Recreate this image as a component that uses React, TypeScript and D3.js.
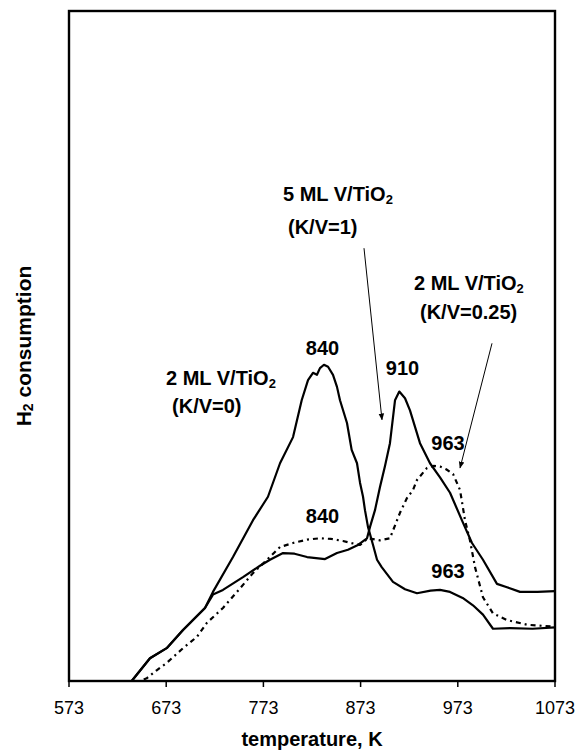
import React from "react";
import * as d3 from "d3";

// ---- Data (temperature in K, H2 consumption in arbitrary units 0..100) ----
const xTicks = [573, 673, 773, 873, 973, 1073];

// 2 ML V/TiO2 (K/V=0), solid, peak 840
const tempA = [573, 637.5, 656.3, 673.5, 690.3, 712.9, 721.1, 741.7, 762.3, 777.7, 790.1, 803.5, 812.4, 818.9, 824.0, 828.1, 831.2, 835.3, 839.5, 844.6, 848.7, 851.8, 859.0, 863.8, 869.3, 872.4, 875.5, 877.5, 880.6, 885.8, 889.9, 894.7, 906.3, 918.7, 931.0, 945.0, 954.7, 965.0, 978.0, 988.6, 998.9, 1009.2, 1026.7, 1050.0, 1073];
const valA = [0, 0, 3.4, 4.9, 7.6, 10.9, 13.3, 18.5, 24.0, 27.5, 32.5, 36.4, 41.9, 44.9, 46.0, 45.7, 46.7, 47.2, 46.9, 45.7, 43.9, 41.9, 38.5, 34.5, 32.5, 29.6, 27.5, 25.5, 23.0, 20.3, 18.1, 17.0, 14.8, 13.7, 13.1, 13.5, 13.6, 13.3, 12.4, 11.3, 9.9, 7.8, 7.9, 7.8, 8.0];

// 5 ML V/TiO2 (K/V=1), solid, peak 910
const tempB = [573, 637.5, 656.3, 673.5, 690.3, 712.9, 721.1, 731.4, 752.0, 769.5, 779.8, 793.2, 805.0, 817.9, 836.4, 848.7, 860.0, 870.3, 879.6, 882.7, 887.8, 893.0, 898.1, 903.2, 908.4, 912.8, 918.7, 923.8, 934.1, 944.4, 954.7, 965.0, 978.4, 987.6, 998.9, 1013.3, 1023.6, 1037.0, 1055.0, 1073];
const valB = [0, 0, 3.4, 4.9, 7.6, 10.9, 12.9, 13.6, 15.5, 17.2, 18.1, 19.1, 19.0, 18.5, 18.2, 19.1, 19.6, 20.3, 21.3, 23.0, 25.5, 29.0, 32.1, 35.5, 41.9, 43.2, 42.2, 40.4, 35.5, 32.5, 30.4, 28.1, 23.6, 20.6, 18.1, 14.5, 14.0, 13.3, 13.3, 13.4];

// 2 ML V/TiO2 (K/V=0.25), dotted, peak 963
const tempC = [573, 646.0, 652.9, 663.2, 673.5, 690.3, 704.7, 715.0, 731.4, 745.8, 762.3, 776.7, 790.1, 803.5, 818.0, 831.2, 843.0, 854.9, 866.0, 872.4, 880.6, 893.0, 903.2, 913.5, 920.7, 926.9, 931.0, 941.3, 948.0, 954.7, 961.0, 968.1, 975.3, 980.4, 985.5, 990.7, 998.9, 1009.2, 1023.6, 1044.2, 1073];
const valC = [0, 0, 0.4, 1.6, 2.7, 4.9, 6.6, 8.7, 10.9, 13.3, 16.1, 18.1, 20.0, 20.6, 21.1, 21.3, 21.2, 20.9, 20.5, 20.3, 21.3, 21.0, 21.3, 25.1, 27.3, 28.5, 30.0, 31.8, 32.1, 32.0, 31.6, 30.9, 28.5, 24.0, 21.0, 17.0, 12.5, 10.1, 9.1, 8.4, 8.1];

// Annotation texts and where they sit (temperature, consumption)
const labelTexts = ["5 ML V/TiO|2", "(K/V=1)", "2 ML V/TiO|2", "(K/V=0.25)", "840", "2 ML V/TiO|2", "(K/V=0)", "910", "963", "840", "963"];
const labelT = [793.2, 798.3, 927.9, 934.1, 833.8, 672.8, 679.0, 916.1, 962.9, 833.8, 962.9];
const labelV = [72.7, 67.8, 59.4, 55.1, 49.7, 45.2, 41.0, 46.7, 35.5, 24.6, 16.4];
const labelAnchor = ["start", "start", "start", "start", "middle", "start", "start", "middle", "middle", "middle", "middle"];

// Arrows: from (T0,V0) to (T1,V1)
const arrowT0 = [876.5, 1008.2];
const arrowV0 = [64.6, 50.4];
const arrowT1 = [895.0, 975.3];
const arrowV1 = [39.0, 31.8];

const W = 579;
const H = 751;
const M = { left: 69, right: 24, top: 11, bottom: 70 };

export default function App() {
  const x = d3.scaleLinear().domain([573, 1073]).range([M.left, W - M.right]);
  const y = d3.scaleLinear().domain([0, 100]).range([H - M.bottom, M.top]);
  const line = d3
    .line<[number, number]>()
    .x((d) => x(d[0]))
    .y((d) => y(d[1]))
    .curve(d3.curveLinear);

  const series = [
    { t: tempA, v: valA, dash: undefined as string | undefined },
    { t: tempB, v: valB, dash: undefined as string | undefined },
    { t: tempC, v: valC, dash: "5,4,2,4" },
  ];

  const font = "'Liberation Sans', Arial, sans-serif";
  const x0 = x(573);
  const x1 = x(1073);
  const yb = y(0);
  const yt = y(100);

  return (
    <svg
      width={W}
      height={H}
      style={{ position: "absolute", left: 0, top: 0, background: "#fff" }}
      fontFamily={font}
    >
      <defs>
        <marker id="ah" viewBox="0 0 10 10" refX="9" refY="5" markerWidth="7" markerHeight="9" orient="auto" markerUnits="userSpaceOnUse">
          <path d="M0,1 L10,5 L0,9 Z" fill="#000" />
        </marker>
      </defs>

      {/* curves */}
      {series.map((s, i) => (
        <path
          key={i}
          d={line(s.t.map((t, j) => [t, s.v[j]] as [number, number])) || ""}
          fill="none"
          stroke="#000"
          strokeWidth={2.2}
          strokeDasharray={s.dash}
          strokeLinejoin="round"
        />
      ))}

      {/* frame */}
      <rect x={x0} y={yt} width={x1 - x0} height={yb - yt} fill="none" stroke="#000" strokeWidth={2.4} />

      {/* x ticks */}
      {xTicks.map((t) => (
        <g key={t}>
          <line x1={x(t)} x2={x(t)} y1={yb} y2={yb + 6} stroke="#000" strokeWidth={1.5} />
          <text x={x(t)} y={yb + 27} textAnchor="middle" dominantBaseline="central" fontSize={18}>
            {t}
          </text>
        </g>
      ))}

      {/* axis titles */}
      <text x={(x0 + x1) / 2} y={739} textAnchor="middle" dominantBaseline="central" fontSize={20} fontWeight="bold">
        temperature, K
      </text>
      <text
        transform={`translate(23, ${(yb + yt) / 2}) rotate(-90)`}
        textAnchor="middle"
        dominantBaseline="central"
        fontSize={21}
        fontWeight="bold"
      >
        H<tspan fontSize={14} dy={5}>2</tspan>
        <tspan dy={-5}> consumption</tspan>
      </text>

      {/* arrows */}
      {arrowT0.map((t, i) => (
        <line
          key={i}
          x1={x(t)}
          y1={y(arrowV0[i])}
          x2={x(arrowT1[i])}
          y2={y(arrowV1[i])}
          stroke="#000"
          strokeWidth={1}
          markerEnd="url(#ah)"
        />
      ))}

      {/* labels */}
      {labelTexts.map((txt, i) => {
        const parts = txt.split("|");
        return (
          <text
            key={i}
            x={x(labelT[i])}
            y={y(labelV[i])}
            textAnchor={labelAnchor[i]}
            dominantBaseline="central"
            fontSize={20}
            fontWeight="bold"
          >
            {parts[0]}
            {parts[1] && (
              <tspan fontSize={13} dy={5}>
                {parts[1]}
              </tspan>
            )}
          </text>
        );
      })}
    </svg>
  );
}
